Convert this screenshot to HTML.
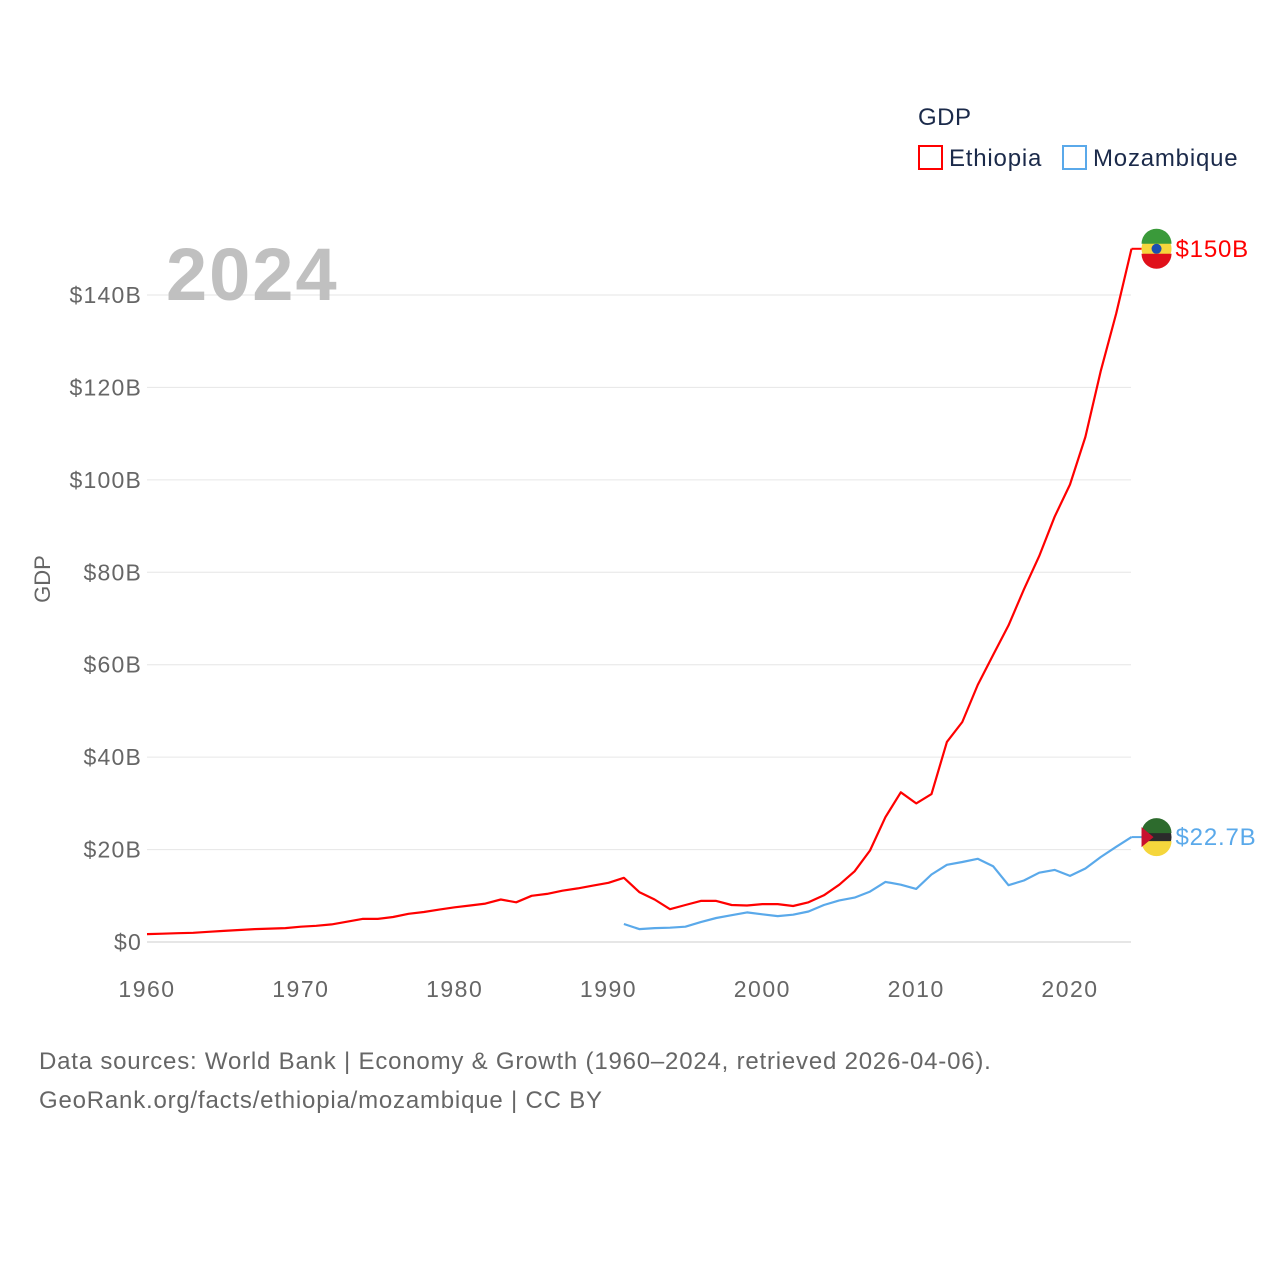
<!DOCTYPE html>
<html><head><meta charset="utf-8"><style>
body{margin:0;background:#fff;font-family:"Liberation Sans",sans-serif}
svg text{font-family:"Liberation Sans",sans-serif}
</style></head><body>
<svg id="chart" width="1280" height="1280" viewBox="0 0 1280 1280">
<g id="grid"></g><g id="axes"></g><g id="lines"></g>
<text x="918" y="125" font-size="24" letter-spacing="0.5" fill="#1b2a4a">GDP</text>
<rect x="919" y="146" width="23" height="23" fill="none" stroke="#ff0000" stroke-width="2"/>
<text x="949" y="166" font-size="24" letter-spacing="0.8" fill="#1b2a4a">Ethiopia</text>
<rect x="1063" y="146" width="23" height="23" fill="none" stroke="#5aa9ea" stroke-width="2"/>
<text x="1093" y="166" font-size="24" letter-spacing="0.8" fill="#1b2a4a">Mozambique</text>
<text x="166" y="300" font-size="74" font-weight="bold" letter-spacing="2" fill="#c0c0c0">2024</text>
<text transform="translate(50,579) rotate(-90)" text-anchor="middle" font-size="22" fill="#666">GDP</text>
<text x="39" y="1069" font-size="24" letter-spacing="0.8" fill="#666">Data sources: World Bank | Economy &amp; Growth (1960–2024, retrieved 2026-04-06).</text>
<text x="39" y="1108" font-size="24" letter-spacing="0.8" fill="#666">GeoRank.org/facts/ethiopia/mozambique | CC BY</text>
</svg>
<script>
const yTicks=[0,20,40,60,80,100,120,140];
const yTickLabels=["$0","$20B","$40B","$60B","$80B","$100B","$120B","$140B"];
const xTicks=[1960,1970,1980,1990,2000,2010,2020];
const ethYears=[1960,1961,1962,1963,1964,1965,1966,1967,1968,1969,1970,1971,1972,1973,1974,1975,1976,1977,1978,1979,1980,1981,1982,1983,1984,1985,1986,1987,1988,1989,1990,1991,1992,1993,1994,1995,1996,1997,1998,1999,2000,2001,2002,2003,2004,2005,2006,2007,2008,2009,2010,2011,2012,2013,2014,2015,2016,2017,2018,2019,2020,2021,2022,2023,2024];
const ethValues=[1.7,1.8,1.9,2.0,2.2,2.4,2.6,2.8,2.9,3.0,3.3,3.5,3.8,4.4,5.0,5.0,5.4,6.1,6.5,7.0,7.5,7.9,8.3,9.2,8.6,10.0,10.4,11.1,11.6,12.2,12.8,13.9,10.8,9.2,7.1,8.0,8.9,8.9,8.0,7.9,8.2,8.2,7.8,8.6,10.1,12.4,15.3,19.8,27.0,32.4,30.0,32.0,43.3,47.6,55.6,62.1,68.5,76.3,83.5,92.0,99.0,109.3,123.6,136.0,150.0];
const mozYears=[1991,1992,1993,1994,1995,1996,1997,1998,1999,2000,2001,2002,2003,2004,2005,2006,2007,2008,2009,2010,2011,2012,2013,2014,2015,2016,2017,2018,2019,2020,2021,2022,2023,2024];
const mozValues=[3.9,2.8,3.0,3.1,3.3,4.3,5.2,5.8,6.4,6.0,5.6,5.9,6.6,8.0,9.0,9.6,10.9,13.0,12.4,11.5,14.6,16.7,17.3,18.0,16.4,12.3,13.3,15.0,15.6,14.3,15.9,18.4,20.6,22.7];
const ethLabel="$150B", mozLabel="$22.7B";
const NS="http://www.w3.org/2000/svg";
const X=y=>147+(y-1960)*(1070-147)/60;
const Y=v=>942-v*(942-295)/140;
function mk(t,a,p){const e=document.createElementNS(NS,t);for(const k in a)e.setAttribute(k,a[k]);p.appendChild(e);return e;}
const grid=document.getElementById('grid'),axes=document.getElementById('axes'),lines=document.getElementById('lines');
yTicks.forEach((v,i)=>{
 const l=mk('line',{x1:147,x2:1131,y1:Y(v),y2:Y(v),stroke:v===0?'#ccc':'#e6e6e6','stroke-width':1},grid);
 
 
 const t=mk('text',{x:142,y:Y(v)+8,'text-anchor':'end','font-size':23,'letter-spacing':1.2,fill:'#666'},axes);
 t.textContent=yTickLabels[i];
 
 
});
xTicks.forEach(y=>{
 const t=mk('text',{x:X(y),y:997,'text-anchor':'middle','font-size':23,'letter-spacing':1.5,fill:'#666'},axes);
 t.textContent=y;
 
 
});
function series(ys,vs,col,name,label){
 const d=ys.map((y,i)=>(i?'L':'M')+X(y).toFixed(1)+','+Y(vs[i]).toFixed(1)).join('');
 const p=mk('path',{d:d,fill:'none',stroke:col,'stroke-width':2.2,'stroke-linejoin':'round'},lines);
 
 
 const lx=X(ys[ys.length-1]),ly=Y(vs[vs.length-1]);
 mk('line',{x1:lx,x2:lx+10,y1:ly,y2:ly,stroke:col,'stroke-width':2},lines);
 const c=mk('circle',{cx:lx+25,cy:ly,r:15,fill:name==='ethiopia'?'#f5d63c':'#2b2b2b'},lines);
 
 
 if(name==='ethiopia'){mk('path',{d:`M${lx+10},${ly-5}A15,15 0 0 1 ${lx+40},${ly-5}Z`,fill:'#3a9a3a'},lines);mk('path',{d:`M${lx+10},${ly+5}A15,15 0 0 0 ${lx+40},${ly+5}Z`,fill:'#e0101a'},lines);mk('circle',{cx:lx+25,cy:ly,r:5,fill:'#1b4fb0'},lines);}
 else{mk('path',{d:`M${lx+10},${ly-4}A15,15 0 0 1 ${lx+40},${ly-4}Z`,fill:'#2d6b2d'},lines);mk('path',{d:`M${lx+10},${ly+4}A15,15 0 0 0 ${lx+40},${ly+4}Z`,fill:'#f5d63c'},lines);mk('path',{d:`M${lx+10},${ly-10}L${lx+22},${ly}L${lx+10},${ly+10}Z`,fill:'#c8102e'},lines);}
 const t=mk('text',{x:lx+44,y:ly+8,'font-size':24,'letter-spacing':0.8,fill:col},lines);
 t.textContent=label;
 
 
}
series(ethYears,ethValues,'#ff0000','ethiopia',ethLabel);
series(mozYears,mozValues,'#5aa9ea','mozambique',mozLabel);
</script>
</body></html>
